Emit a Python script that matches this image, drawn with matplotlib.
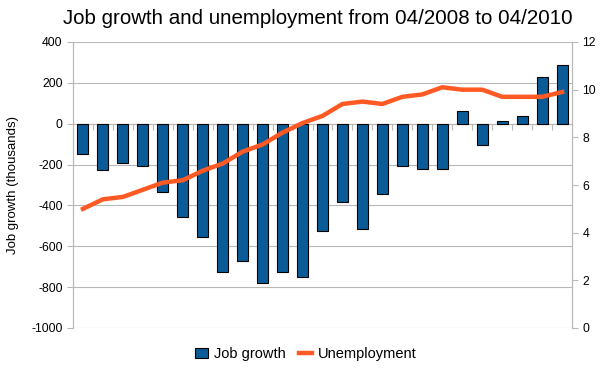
import matplotlib
matplotlib.use("Agg")
import matplotlib.pyplot as plt
from matplotlib.patches import Patch
from matplotlib.lines import Line2D

plt.rcParams['font.family'] = ['Liberation Sans', 'DejaVu Sans']
plt.rcParams['axes.unicode_minus'] = False

months = ['04/2008', '05/2008', '06/2008', '07/2008', '08/2008', '09/2008', '10/2008',
          '11/2008', '12/2008', '01/2009', '02/2009', '03/2009', '04/2009', '05/2009',
          '06/2009', '07/2009', '08/2009', '09/2009', '10/2009', '11/2009', '12/2009',
          '01/2010', '02/2010', '03/2010', '04/2010']
job_growth = [-150, -228, -194, -208, -332, -457, -554, -725, -672, -779, -725, -750,
              -527, -385, -517, -345, -208, -223, -223, 63, -106, 15, 39, 229, 289]
unemployment = [5.0, 5.4, 5.5, 5.8, 6.1, 6.2, 6.6, 6.9, 7.4, 7.7, 8.2, 8.6,
                8.9, 9.4, 9.5, 9.4, 9.7, 9.8, 10.1, 10.0, 10.0, 9.7, 9.7, 9.7, 9.9]

bar_color = '#0b5b98'
line_color = '#ff5a24'
grid_gray = '#b8b8b8'

fig = plt.figure(figsize=(6.1, 3.79), dpi=100)
ax = fig.add_axes([73/610, 1-328/379, (572-73)/610, (328-42)/379])
x = list(range(len(months)))

ax.bar(x, job_growth, width=0.55, color=bar_color, edgecolor='black', linewidth=0.8, zorder=3)
ax.set_xlim(-0.5, len(months)-0.5)
ax.set_ylim(-1000, 400)
ax.set_yticks(range(-1000, 401, 200))
ax.yaxis.grid(True, color=grid_gray, linewidth=0.8, zorder=0)
ax.set_axisbelow(True)
ax.set_ylabel('Job growth (thousands)', fontsize=9.5, labelpad=9)
ax.tick_params(axis='y', labelsize=8.8, color=grid_gray, length=4, width=0.8)

# category ticks hanging off the zero line
ax.spines['bottom'].set_position(('data', 0))
ax.spines['bottom'].set_color(grid_gray)
ax.set_xticks([i + 0.5 for i in x[:-1]])
ax.set_xticklabels([])
ax.tick_params(axis='x', color=grid_gray, length=4, width=0.8, direction='out')
ax.spines['top'].set_visible(False)
for s in ['left', 'right']:
    ax.spines[s].set_color(grid_gray)

ax2 = ax.twinx()
ax2.plot(x, unemployment, color=line_color, linewidth=3.2, zorder=4)
ax2.set_ylim(0, 12)
ax2.set_yticks(range(0, 13, 2))
ax2.tick_params(axis='y', labelsize=8.8, color=grid_gray, length=4, width=0.8)
for s in ['left', 'right', 'bottom']:
    ax2.spines[s].set_color(grid_gray)
ax2.spines['top'].set_visible(False)
ax2.spines['bottom'].set_visible(False)

fig.suptitle('Job growth and unemployment from 04/2008 to 04/2010', fontsize=14.8,
             x=318/610, y=0.975)

handles = [Patch(facecolor=bar_color, edgecolor='black', linewidth=0.8),
           Line2D([0], [0], color=line_color, linewidth=3.2)]
fig.legend(handles, ['Job growth', 'Unemployment'], loc='center', bbox_to_anchor=(306/610, 1-354/379),
           ncol=2, frameon=False, fontsize=10.5, handlelength=0.9, handletextpad=0.4, columnspacing=0.9)

fig.savefig('out.png', dpi=100)
